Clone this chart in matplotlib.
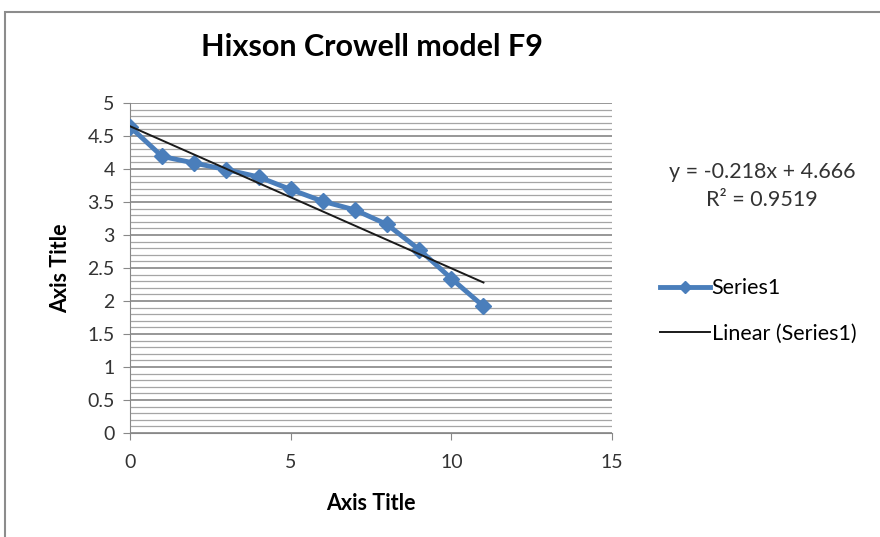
"""Hixson Crowell model F9 - recreated chart."""
import numpy as np
from matplotlib import pyplot as plt
from matplotlib.patches import Rectangle
from matplotlib.lines import Line2D
from matplotlib.ticker import MultipleLocator

time_points = [0, 1, 2, 3, 4, 5, 6, 7, 8, 9, 10, 11]
series1 = [4.64, 4.19, 4.09, 3.99, 3.88, 3.69, 3.51, 3.38, 3.16, 2.78, 2.34, 1.92]
x_ticks = [0, 5, 10, 15]
y_ticks = [0, 0.5, 1, 1.5, 2, 2.5, 3, 3.5, 4, 4.5, 5]
equation = "y = -0.218x + 4.666"
r_squared = "R² = 0.9519"


def main():
    """Draw the chart and save it."""
    plt.rcParams["font.family"] = ["Lato", "DejaVu Sans"]
    fig = plt.figure(figsize=(8.8, 5.37), dpi=100)
    fig.patches.append(Rectangle((5 / 880, -0.01), 1.0, 1 - 12 / 537 + 0.01,
                                 transform=fig.transFigure, fill=False,
                                 edgecolor="#8c8c8c", linewidth=1.5))

    ax = fig.add_axes([130 / 880, 1 - 433 / 537, 482 / 880, 330 / 537])
    ax.set_xlim(0, 15)
    ax.set_ylim(0, 5)
    ax.set_xticks(x_ticks)
    ax.set_yticks(y_ticks)
    ax.set_yticklabels([f"{v:g}" for v in y_ticks])
    ax.yaxis.set_minor_locator(MultipleLocator(0.1))
    ax.grid(True, which="major", axis="y", color="#7a7a7a", linewidth=1.1)
    ax.grid(True, which="minor", axis="y", color="#a5a5a5", linewidth=0.9)
    ax.tick_params(axis="y", which="minor", length=0)
    ax.tick_params(axis="both", which="major", colors="#888888",
                   labelcolor="#333333", labelsize=14, length=5)
    ax.tick_params(axis="x", pad=10)
    ax.tick_params(axis="y", pad=6)
    for side in ["top", "right"]:
        ax.spines[side].set_visible(False)
    for side in ["left", "bottom"]:
        ax.spines[side].set_color("#888888")
    ax.set_axisbelow(True)

    ax.plot(time_points, series1, color="#4a7ebb", linewidth=3.5,
            marker="D", markersize=8, zorder=3)
    slope, intercept = np.polyfit(time_points, series1, 1)
    fit_x = np.array([time_points[0], time_points[-1]])
    ax.plot(fit_x, slope * fit_x + intercept, color="#1a1a1a", linewidth=1.4, zorder=4)

    fig.text(372 / 880, 1 - 47 / 537, "Hixson Crowell model F9", ha="center",
             va="center", fontsize=22, fontweight="bold")
    ax.set_xlabel("Axis Title", fontsize=15.5, fontweight="bold", labelpad=16)
    ax.set_ylabel("Axis Title", fontsize=15.5, fontweight="bold", labelpad=12)

    fig.text(762 / 880, 1 - 172 / 537, equation, ha="center", va="center",
             fontsize=15.5, color="#333333")
    fig.text(762 / 880, 1 - 200 / 537, r_squared, ha="center", va="center",
             fontsize=15.5, color="#333333")

    handles = [
        Line2D([], [], color="#4a7ebb", linewidth=3.5, marker="D", markersize=6),
        Line2D([], [], color="#1a1a1a", linewidth=1.4),
    ]
    fig.legend(handles, ["Series1", "Linear (Series1)"], loc="center left",
               bbox_to_anchor=(660 / 880, 1 - 311 / 537), frameon=False,
               fontsize=15.5, handlelength=2.3, handletextpad=0.1,
               labelspacing=1.2, borderaxespad=0, borderpad=0)

    plt.savefig("out.png", dpi=100)
    plt.close()


if __name__ == "__main__":
    main()
